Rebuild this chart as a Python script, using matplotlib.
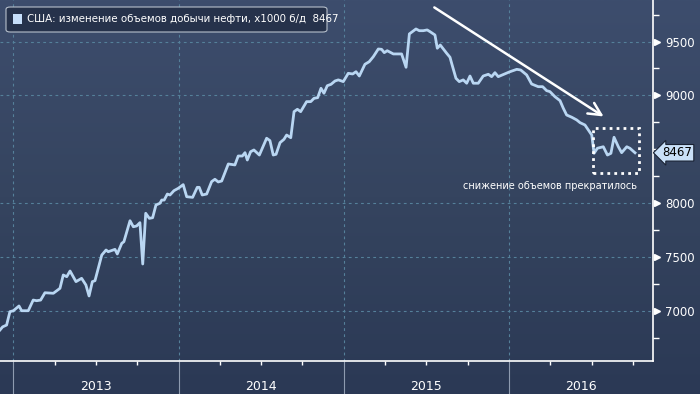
import numpy as np
import matplotlib
matplotlib.use('Agg')
import matplotlib.pyplot as plt
import matplotlib.transforms as mtransforms
from matplotlib.colors import LinearSegmentedColormap
from matplotlib.patches import FancyBboxPatch, Rectangle
from matplotlib.ticker import MultipleLocator, FixedLocator

# weekly US crude output (decimal year, thousand b/d)
dates = [2012.919, 2012.935, 2012.959, 2012.979, 2013.000, 2013.034, 2013.050, 2013.090,
         2013.120, 2013.141, 2013.165, 2013.191, 2013.242, 2013.282, 2013.302, 2013.323,
         2013.343, 2013.379, 2013.413, 2013.439, 2013.458, 2013.478, 2013.494, 2013.535,
         2013.561, 2013.574, 2013.615, 2013.629, 2013.656, 2013.669, 2013.706, 2013.726,
         2013.746, 2013.766, 2013.783, 2013.801, 2013.823, 2013.843, 2013.863, 2013.887,
         2013.898, 2013.913, 2013.932, 2013.948, 2013.972, 2013.998, 2014.028, 2014.049,
         2014.085, 2014.113, 2014.125, 2014.143, 2014.170, 2014.200, 2014.220, 2014.240,
         2014.261, 2014.301, 2014.341, 2014.361, 2014.386, 2014.402, 2014.416, 2014.436,
         2014.456, 2014.489, 2014.533, 2014.553, 2014.573, 2014.590, 2014.614, 2014.638,
         2014.654, 2014.679, 2014.699, 2014.719, 2014.739, 2014.775, 2014.800, 2014.820,
         2014.842, 2014.862, 2014.880, 2014.900, 2014.923, 2014.947, 2014.967, 2014.997,
         2015.027, 2015.054, 2015.074, 2015.094, 2015.128, 2015.154, 2015.179, 2015.209,
         2015.229, 2015.245, 2015.263, 2015.300, 2015.350, 2015.377, 2015.397, 2015.437,
         2015.457, 2015.481, 2015.505, 2015.522, 2015.552, 2015.566, 2015.584, 2015.623,
         2015.643, 2015.653, 2015.679, 2015.699, 2015.723, 2015.744, 2015.764, 2015.784,
         2015.814, 2015.844, 2015.875, 2015.895, 2015.915, 2015.935, 2016.006, 2016.047,
         2016.071, 2016.107, 2016.137, 2016.177, 2016.204, 2016.228, 2016.248, 2016.278,
         2016.309, 2016.329, 2016.349, 2016.380, 2016.410, 2016.430, 2016.460, 2016.480,
         2016.501, 2016.515, 2016.535, 2016.571, 2016.596, 2016.617, 2016.636, 2016.662,
         2016.682, 2016.713, 2016.732, 2016.763]
output = [6821, 6850, 6867, 6991, 7000, 7044, 7000, 7000,
          7099, 7093, 7099, 7167, 7162, 7208, 7332, 7316,
          7369, 7270, 7301, 7239, 7137, 7270, 7279, 7517,
          7564, 7548, 7570, 7527, 7626, 7641, 7836, 7780,
          7787, 7818, 7434, 7905, 7858, 7864, 7982, 7998,
          8028, 8028, 8084, 8075, 8115, 8137, 8171, 8059,
          8053, 8146, 8146, 8075, 8084, 8199, 8221, 8196,
          8205, 8363, 8354, 8437, 8437, 8468, 8400, 8477,
          8493, 8446, 8602, 8580, 8446, 8453, 8561, 8592,
          8632, 8607, 8849, 8871, 8849, 8942, 8942, 8973,
          8979, 9066, 9020, 9090, 9103, 9134, 9144, 9128,
          9205, 9199, 9220, 9180, 9289, 9313, 9360, 9431,
          9428, 9397, 9415, 9385, 9385, 9261, 9571, 9617,
          9601, 9601, 9608, 9592, 9561, 9438, 9468, 9391,
          9354, 9298, 9159, 9128, 9144, 9113, 9180, 9113,
          9113, 9180, 9196, 9174, 9211, 9174, 9220, 9242,
          9236, 9190, 9106, 9081, 9081, 9044, 9035, 8988,
          8951, 8880, 8818, 8797, 8772, 8747, 8725, 8679,
          8632, 8462, 8509, 8523, 8446, 8462, 8611, 8523,
          8468, 8523, 8509, 8467]

year_labels = ['2013', '2014', '2015', '2016']
y_ticks = [7000, 7500, 8000, 9000, 9500]
last_value = 8467
legend_text = 'США: изменение объемов добычи нефти, x1000 б/д  8467'
note_text = 'снижение объемов прекратилось'

plt.rcParams['font.family'] = ['DejaVu Sans']

fig = plt.figure(figsize=(7, 3.94), dpi=100)

# background gradient over the whole figure
bg = fig.add_axes([0, 0, 1, 1], zorder=-10)
grad = np.linspace(0, 1, 256).reshape(-1, 1)
cmap = LinearSegmentedColormap.from_list('bg', ['#3d4d6d', '#35445f', '#2b3955'])
bg.imshow(grad, aspect='auto', cmap=cmap, extent=[0, 1, 0, 1], origin='upper')
bg.axis('off')

ax = fig.add_axes([0, 33 / 394, 652.7 / 700, 361 / 394])
ax.patch.set_alpha(0)
ax.set_xlim(2012.919, 2016.870)
ax.set_ylim(6533, 9886)

ax.plot(dates, output, color='#b9d6f2', lw=2, zorder=3, solid_joinstyle='round')

# grid
for v in y_ticks:
    ax.axhline(v, color='#55809a', lw=0.8, ls=(0, (2.5, 3)), zorder=1)
for yr in [2013, 2014, 2015, 2016]:
    ax.axvline(yr, color='#55809a', lw=0.8, ls=(0, (2.5, 3)), zorder=1)

# spines
for s in ['left', 'top']:
    ax.spines[s].set_visible(False)
ax.spines['bottom'].set_color('white')
ax.spines['right'].set_color('white')
ax.spines['bottom'].set_linewidth(1.2)
ax.spines['right'].set_linewidth(1.2)

# x axis: year dividers + quarterly ticks
ax.xaxis.set_major_locator(FixedLocator([2013, 2014, 2015, 2016]))
ax.xaxis.set_minor_locator(FixedLocator([y + q for y in range(2013, 2017) for q in (0.25, 0.5, 0.75)]))
ax.tick_params(axis='x', which='major', length=24, width=0.8, color='#8e9bb0', labelbottom=False)
ax.tick_params(axis='x', which='minor', length=3, width=1, color='white')
xt = mtransforms.blended_transform_factory(ax.transData, ax.transAxes)
for i, lab in enumerate(year_labels):
    ax.text(2013.5 + i if i < 3 else 2016.435, -25 / 361, lab, transform=xt,
            ha='center', va='center', color='white', fontsize=9)

# y axis on the right with triangle markers
ax.yaxis.tick_right()
ax.yaxis.set_major_locator(FixedLocator(y_ticks))
ax.yaxis.set_minor_locator(MultipleLocator(250))
ax.tick_params(axis='y', which='major', length=0, pad=9, labelcolor='white', labelsize=8.5)
ax.tick_params(axis='y', which='minor', length=4, width=1, color='white')
yt = mtransforms.blended_transform_factory(ax.transAxes, ax.transData)
ax.plot([1.0065] * len(y_ticks), y_ticks, ls='none', marker='>',
        ms=5, color='white', transform=yt, clip_on=False)

# current value tag
ax.text(1.0145, last_value, str(last_value), transform=yt, ha='left', va='center',
        color='black', fontsize=8.5,
        bbox=dict(boxstyle='larrow,pad=0.15', fc='#c9e0f8', ec='#1a2233', lw=0.8))

# legend box
leg = FancyBboxPatch((6 / 700, 1 - 32 / 394), 321 / 700, 25 / 394,
                     boxstyle='round,pad=0,rounding_size=0.006', transform=fig.transFigure,
                     fc='#26324b', ec='#b7c0cc', lw=0.8, zorder=5)
fig.patches.append(leg)
fig.patches.append(Rectangle((13 / 700, 1 - 24 / 394), 9 / 700, 10 / 394,
                             transform=fig.transFigure, fc='#c6defa', ec='none', zorder=6))
fig.text(27 / 700, 1 - 19.5 / 394, legend_text, color='white', fontsize=7.4, va='center',
         ha='left', zorder=7)

# trend arrow
ax.annotate('', xy=(2016.587, 8790), xytext=(2015.534, 9831),
            arrowprops=dict(arrowstyle='->,head_length=0.9,head_width=0.45',
                            color='white', lw=1.8), zorder=4, annotation_clip=False)

# dotted box around the last weeks
ax.add_patch(Rectangle((2016.509, 8279), 2016.787 - 2016.509, 8697 - 8279,
                       fill=False, ec='white', lw=2, ls=(0, (1, 1.5)), zorder=4))
ax.text(2016.775, 8158, note_text, color='white', fontsize=7, ha='right', va='center')

fig.savefig('out.png', dpi=100)
